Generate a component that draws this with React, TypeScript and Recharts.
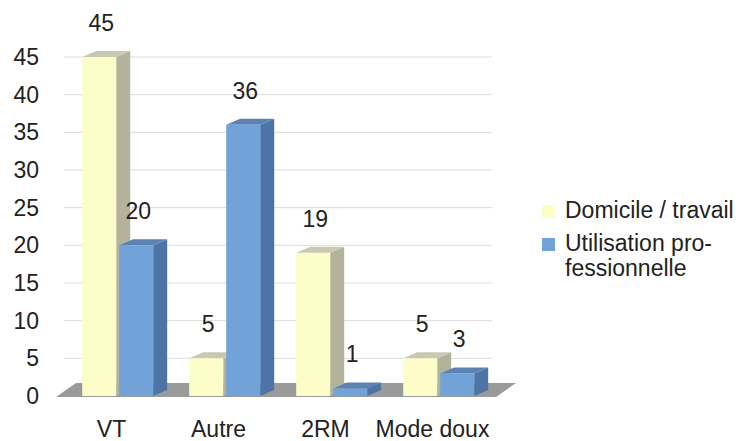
import React from "react";
import { BarChart, Bar, XAxis, YAxis, CartesianGrid, LabelList, ReferenceArea } from "recharts";

const categories = ["VT", "Autre", "2RM", "Mode doux"];
const domicileTravail = [45, 5, 19, 5];
const utilisationPro = [20, 36, 1, 3];
const yTicks = [0, 5, 10, 15, 20, 25, 30, 35, 40, 45];

const data = categories.map((c, i) => ({
  name: c,
  domicile: domicileTravail[i],
  pro: utilisationPro[i],
}));

const FONT = "'Liberation Sans', Arial, sans-serif";
const D = 14;
const DY = 6;

const makeBar = (front: string, side: string, top: string) => (props: any) => {
  const { x, y, width, height } = props;
  if (width == null || height == null) return null;
  const w = width;
  const h = height;
  return (
    <g>
      <polygon
        points={`${x + w},${y} ${x + w + D},${y - DY} ${x + w + D},${y + h - DY} ${x + w},${y + h}`}
        fill={side}
      />
      <polygon
        points={`${x},${y} ${x + D},${y - DY} ${x + w + D},${y - DY} ${x + w},${y}`}
        fill={top}
      />
      <rect x={x} y={y} width={w} height={h} fill={front} />
    </g>
  );
};

const YellowBar = makeBar("#fdfdc9", "#b3b39c", "#c9c9b2");
const BlueBar = makeBar("#72a3d8", "#4d74a6", "#5b82b3");

const FloorShape = (props: any) => {
  const { x, y, width, height } = props;
  if (x == null) return null;
  const base = y + height;
  return (
    <polygon
      points={`${x - 8},${base + 1} ${x + width + 4},${base + 1} ${x + width + 24},${base - 13} ${x + 12},${base - 13}`}
      fill="#9a9a9a"
    />
  );
};

const ValueLabel = (props: any) => {
  const { x, y, width, value } = props;
  return (
    <text
      x={x + width / 2 + 2}
      y={y - 26}
      textAnchor="middle"
      fontSize={23}
      fontFamily={FONT}
      fill="#222"
    >
      {value}
    </text>
  );
};

const YTick = (props: any) => {
  const { y, payload } = props;
  return (
    <text x={39} y={y + 8} textAnchor="end" fontSize={23} fontFamily={FONT} fill="#222">
      {payload.value}
    </text>
  );
};

const XTick = (props: any) => {
  const { x, y, payload } = props;
  return (
    <text x={x - 6} y={y + 33} textAnchor="middle" fontSize={23} fontFamily={FONT} fill="#222">
      {payload.value}
    </text>
  );
};

export default function App() {
  return (
    <div style={{ position: "absolute", left: 0, top: 0, width: 750, height: 441, background: "#fff" }}>
      <BarChart
        width={750}
        height={441}
        data={data}
        margin={{ top: 57, right: 258, bottom: 0, left: 0 }}
        barCategoryGap="17%"
        barGap={3}
      >
        <CartesianGrid vertical={false} stroke="#dcdcdc" />
        <ReferenceArea y1={0} y2={1} shape={<FloorShape />} ifOverflow="visible" />
        <XAxis
          dataKey="name"
          axisLine={false}
          tickLine={false}
          height={45}
          tick={<XTick />}
          interval={0}
        />
        <YAxis
          domain={[0, 45]}
          ticks={yTicks}
          axisLine={false}
          tickLine={false}
          width={64}
          tick={<YTick />}
          interval={0}
        />
        <Bar dataKey="domicile" name="Domicile / travail" fill="#fdfdc9" shape={YellowBar} isAnimationActive={false}>
          <LabelList dataKey="domicile" content={<ValueLabel />} />
        </Bar>
        <Bar dataKey="pro" name="Utilisation professionnelle" fill="#72a3d8" shape={BlueBar} isAnimationActive={false}>
          <LabelList dataKey="pro" content={<ValueLabel />} />
        </Bar>
      </BarChart>
      <div
        style={{
          position: "absolute",
          left: 542,
          top: 198,
          fontFamily: FONT,
          fontSize: 23,
          color: "#222",
          lineHeight: "25px",
        }}
      >
        <div style={{ display: "flex", alignItems: "flex-start" }}>
          <span style={{ display: "inline-block", width: 13, height: 13, background: "#fdfdc9", marginTop: 7, marginRight: 10 }} />
          <span>Domicile / travail</span>
        </div>
        <div style={{ display: "flex", alignItems: "flex-start", marginTop: 8 }}>
          <span style={{ display: "inline-block", width: 13, height: 13, background: "#72a3d8", marginTop: 7, marginRight: 10 }} />
          <span>
            Utilisation pro-
            <br />
            fessionnelle
          </span>
        </div>
      </div>
    </div>
  );
}
